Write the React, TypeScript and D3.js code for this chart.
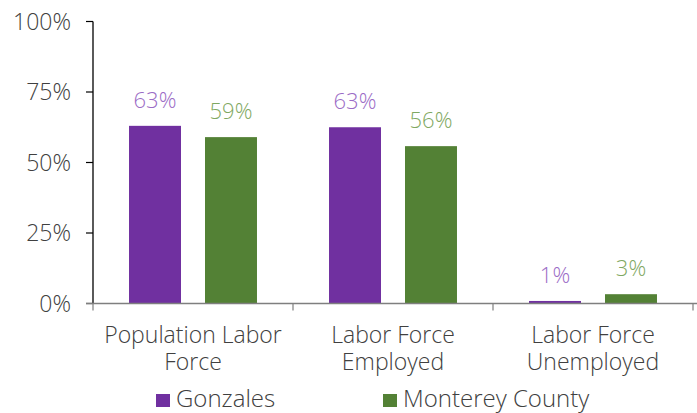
import React from "react";
import * as d3 from "d3";

const categories = [["Population Labor", "Force"], ["Labor Force", "Employed"], ["Labor Force", "Unemployed"]];
const seriesNames = ["Gonzales", "Monterey County"];
const gonzales = [0.63, 0.625, 0.009];
const monterey = [0.59, 0.558, 0.033];
const yTicks = [0, 0.25, 0.5, 0.75, 1];

const barColors = ["#7030A0", "#538135"];
const labelColors = ["#9b6cc6", "#7fa862"];
const FONT = "'Open Sans', sans-serif";

export default function App() {
  const W = 697, H = 413;
  const x0 = 93, x1 = 693, yBase = 303.5, yTop = 21.5;
  const x = d3.scaleBand<number>().domain(d3.range(categories.length)).range([x0, x1]);
  const y = d3.scaleLinear().domain([0, 1]).range([yBase, yTop]);
  const inner = d3.scaleBand<number>().domain([0, 1]).range([0, x.bandwidth()]).paddingInner(0.316).paddingOuter(0.474);
  const series = [gonzales, monterey];
  const fmt = d3.format(".0%");
  return (
    <svg width={W} height={H} style={{ position: "absolute", left: 0, top: 0, display: "block" }} fontFamily={FONT}>
      <rect width={W} height={H} fill="#fff" />
      {/* y axis */}
      <line x1={x0} x2={x0} y1={yTop} y2={yBase} stroke="#000" strokeWidth={1.3} />
      {yTicks.map((t) => (
        <g key={t}>
          <line x1={86} x2={x0} y1={y(t)} y2={y(t)} stroke="#000" strokeWidth={1.2} />
          <text x={71} y={y(t)} dy="0.36em" textAnchor="end" fontSize={23} fontWeight={300} fill="#404040">
            {fmt(t)}
          </text>
        </g>
      ))}
      {/* bars */}
      {series.map((vals, si) =>
        vals.map((v, ci) => {
          const bx = (x(ci) as number) + (inner(si) as number);
          return (
            <g key={`${si}-${ci}`}>
              <rect x={bx} y={y(v)} width={inner.bandwidth()} height={yBase - y(v)} fill={barColors[si]} />
              <text x={bx + inner.bandwidth() / 2} y={y(v) - 18} textAnchor="middle" fontSize={22} fontWeight={300} fill={labelColors[si]}>
                {fmt(Math.round(v * 100) / 100)}
              </text>
            </g>
          );
        })
      )}
      {/* x axis */}
      <line x1={86} x2={W} y1={yBase} y2={yBase} stroke="#7f7f7f" strokeWidth={1.5} />
      {d3.range(categories.length + 1).map((i) => {
        const tx = x0 + i * x.bandwidth();
        return <line key={i} x1={tx} x2={tx} y1={yBase} y2={yBase + 7} stroke="#7f7f7f" strokeWidth={1.2} />;
      })}
      {categories.map((lines, ci) => (
        <text key={ci} x={(x(ci) as number) + x.bandwidth() / 2} textAnchor="middle" fontSize={23} fontWeight={300} fill="#404040">
          {lines.map((l, li) => (
            <tspan key={li} x={(x(ci) as number) + x.bandwidth() / 2} y={343 + li * 27}>{l}</tspan>
          ))}
        </text>
      ))}
      {/* legend */}
      {seriesNames.map((n, i) => {
        const lx = [156, 383][i];
        return (
          <g key={n}>
            <rect x={lx} y={394} width={14} height={13} fill={barColors[i]} />
            <text x={lx + 20} y={407} fontSize={24} fontWeight={300} fill="#404040">{n}</text>
          </g>
        );
      })}
    </svg>
  );
}
